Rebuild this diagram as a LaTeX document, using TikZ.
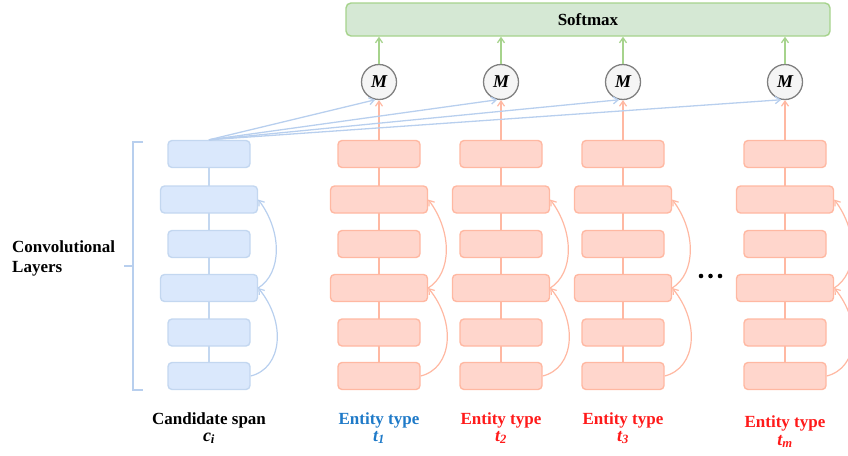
\documentclass[tikz,border=0pt]{standalone}
\usepackage{fontspec}
\setmainfont{Liberation Serif}
\usetikzlibrary{arrows.meta}
\definecolor{bfill}{HTML}{DAE8FC}
\definecolor{bdraw}{HTML}{C3D7F0}
\definecolor{bline}{HTML}{B8CFEE}
\definecolor{rfill}{HTML}{FFD6CC}
\definecolor{rdraw}{HTML}{FFB8A2}
\definecolor{gfill}{HTML}{D5E8D4}
\definecolor{gdraw}{HTML}{A6D38C}
\definecolor{mfill}{HTML}{F5F5F5}
\definecolor{mdraw}{HTML}{808080}
\definecolor{tblue}{HTML}{1F7AC8}
\definecolor{tred}{HTML}{FF1A1A}
\tikzset{
  box/.style={rounded corners=4pt, line width=1.4pt, minimum height=27pt, inner sep=0pt},
  narrow/.style={box, minimum width=82pt},
  wide/.style={box, minimum width=97pt},
  bluebox/.style={fill=bfill, draw=bdraw},
  redbox/.style={fill=rfill, draw=rdraw},
  mnode/.style={circle, fill=mfill, draw=mdraw, line width=1.3pt, minimum size=35pt, inner sep=0pt, font=\fontsize{18}{18}\selectfont\bfseries\itshape},
  tip/.style={-{Straight Barb[length=5pt,width=7pt]}},
  lbl/.style={anchor=base, font=\fontsize{17}{19}\selectfont\bfseries},
  sub/.style={anchor=base, font=\fontsize{18}{19}\selectfont\bfseries\itshape},
}
\begin{document}
\begin{tikzpicture}[x=1pt,y=-1pt]
\useasboundingbox (0,0) rectangle (848,455);

% Softmax
\node[rounded corners=5pt, fill=gfill, draw=gdraw, line width=1.4pt, minimum width=484pt, minimum height=33pt, inner sep=0pt, font=\fontsize{17}{17}\selectfont\bfseries] (soft) at (588,19.5) {Softmax};

% blue column
\coordinate (bc1) at (209,154);
\coordinate (bc6) at (209,376);
\draw[bdraw, line width=1.2pt] (bc1) -- (bc6);
\foreach \r/\y/\s in {1/154/narrow,2/199.5/wide,3/244/narrow,4/288/wide,5/332.5/narrow,6/376/narrow}{
  \node[\s, bluebox] (b\r) at (209,\y) {};
}
\draw[tip, bline, line width=1.2pt] (b6.east) .. controls +(32,-8) and +(28,34) .. (b4.east);
\draw[tip, bline, line width=1.2pt] (b4.east) .. controls +(24,-15) and +(24,32) .. (b2.east);

% red columns
\foreach \c/\x in {1/379,2/501,3/623,4/785}{
  \coordinate (rt\c) at (\x,154);
  \coordinate (rb\c) at (\x,376);
  \draw[rdraw, line width=1.2pt] (rt\c) -- (rb\c);
  \foreach \r/\y/\s in {1/154/narrow,2/199.5/wide,3/244/narrow,4/288/wide,5/332.5/narrow,6/376/narrow}{
    \node[\s, redbox] (r\c\r) at (\x,\y) {};
  }
  \draw[tip, rdraw, line width=1.2pt] (r\c6.east) .. controls +(32,-8) and +(28,34) .. (r\c4.east);
  \draw[tip, rdraw, line width=1.2pt] (r\c4.east) .. controls +(24,-15) and +(24,32) .. (r\c2.east);
  \node[mnode] (m\c) at (\x,82) {M};
  \draw[tip, rdraw, line width=1.2pt] (r\c1.north) -- (m\c.south);
  \draw[tip, gdraw, line width=1.3pt] (m\c.north) -- (m\c.north |- soft.south);
  \draw[tip, bline, line width=1.3pt] (b1.north) -- (m\c.-102);
}

% dots
\foreach \dx in {701,710.5,720}{\fill (\dx,276) circle (2.3pt);}

% brace
\draw[bline, line width=1.3pt] (143,142) -- (133,142) -- (133,390) -- (143,390);
\draw[bline, line width=1.3pt] (133,266) -- (124,266);
\node[anchor=west, align=left, font=\fontsize{17}{20}\selectfont\bfseries, inner sep=0pt] (conv) at (12,258) {Convolutional\\Layers};

% labels
\node[lbl] (l0) at (209,424) {Candidate span};
\node[sub] (s0) at (209,441) {c\textsubscript{i}};
\node[lbl, text=tblue] (l1) at (379,424) {Entity type};
\node[sub, text=tblue] (s1) at (379,441) {t\textsubscript{1}};
\node[lbl, text=tred] (l2) at (501,424) {Entity type};
\node[sub, text=tred] (s2) at (501,441) {t\textsubscript{2}};
\node[lbl, text=tred] (l3) at (623,424) {Entity type};
\node[sub, text=tred] (s3) at (623,441) {t\textsubscript{3}};
\node[lbl, text=tred] (l4) at (785,427) {Entity type};
\node[sub, text=tred] (s4) at (785,445) {t\textsubscript{m}};
\end{tikzpicture}
\end{document}
